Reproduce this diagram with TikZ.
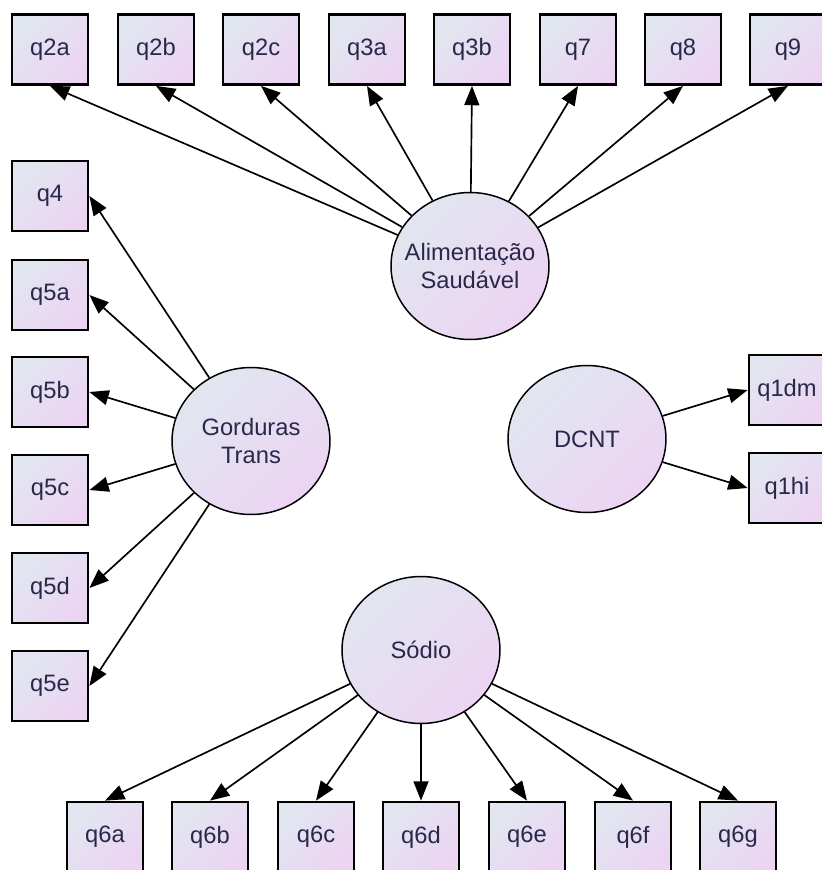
\documentclass[tikz,border=0pt]{standalone}
\usepackage{fontspec}
\setmainfont{Liberation Sans}
\usepackage{tikz}
\usetikzlibrary{shapes.geometric, arrows.meta}
\definecolor{fillA}{RGB}{225,230,240}
\definecolor{fillB}{RGB}{236,212,243}
\definecolor{txt}{RGB}{40,40,75}

\begin{document}
\begin{tikzpicture}[
    x=0.02cm, y=-0.02cm,
    obs/.style={
        rectangle,
        draw=black,
        line width=1.6pt,
        top color=fillA, bottom color=fillB, shading angle=45,
        minimum width=1.52cm,
        minimum height=1.40cm,
        inner sep=0pt,
        font=\fontsize{13.5}{16}\selectfont,
        text=txt,
    },
    latent/.style={obs, ellipse, line width=0.85pt, inner xsep=-6pt,
        minimum width=3.16cm, minimum height=2.94cm, align=center,
        font=\fontsize{13.5}{16}\selectfont},
    load/.style={-{Triangle[length=11pt, width=8.5pt]}, line width=0.95pt}
]
\useasboundingbox (0,0) rectangle (822,870);

\node[latent] (AS) at (470,266) {Alimentação\\Saudável};
\node[latent] (GT) at (251,441) {Gorduras\\Trans};
\node[latent] (DC) at (587,439) {DCNT};
\node[latent] (SO) at (421,650) {Sódio};

\node[obs] (q2a) at (50,49.5) {q2a};
\node[obs] (q2b) at (156,49.5) {q2b};
\node[obs] (q2c) at (261,49.5) {q2c};
\node[obs] (q3a) at (367,49.5) {q3a};
\node[obs] (q3b) at (472,49.5) {q3b};
\node[obs] (q7) at (578,49.5) {q7};
\node[obs] (q8) at (683,49.5) {q8};
\node[obs] (q9) at (788,49.5) {q9};

\node[obs] (q4) at (50,196) {q4};
\node[obs] (q5a) at (50,295) {q5a};
\node[obs] (q5b) at (50,392) {q5b};
\node[obs] (q5c) at (50,490) {q5c};
\node[obs] (q5d) at (50,588) {q5d};
\node[obs] (q5e) at (50,686) {q5e};

\node[obs] (q1dm) at (787,390) {q1dm};
\node[obs] (q1hi) at (787,488) {q1hi};

\node[obs] (q6a) at (105,837) {q6a};
\node[obs] (q6b) at (210,837) {q6b};
\node[obs] (q6c) at (316,837) {q6c};
\node[obs] (q6d) at (421,837) {q6d};
\node[obs] (q6e) at (527,837) {q6e};
\node[obs] (q6f) at (633,837) {q6f};
\node[obs] (q6g) at (738,837) {q6g};

\draw[load] (AS) -- (q2a.south);
\draw[load] (AS) -- (q2b.south);
\draw[load] (AS) -- (q2c.south);
\draw[load] (AS) -- (q3a.south);
\draw[load] (AS) -- (q3b.south);
\draw[load] (AS) -- (q7.south);
\draw[load] (AS) -- (q8.south);
\draw[load] (AS) -- (q9.south);

\draw[load] (GT) -- (q4.east);
\draw[load] (GT) -- (q5a.east);
\draw[load] (GT) -- (q5b.east);
\draw[load] (GT) -- (q5c.east);
\draw[load] (GT) -- (q5d.east);
\draw[load] (GT) -- (q5e.east);

\draw[load] (DC) -- (q1dm.west);
\draw[load] (DC) -- (q1hi.west);

\draw[load] (SO) -- (q6a.north);
\draw[load] (SO) -- (q6b.north);
\draw[load] (SO) -- (q6c.north);
\draw[load] (SO) -- (q6d.north);
\draw[load] (SO) -- (q6e.north);
\draw[load] (SO) -- (q6f.north);
\draw[load] (SO) -- (q6g.north);
\end{tikzpicture}
\end{document}
